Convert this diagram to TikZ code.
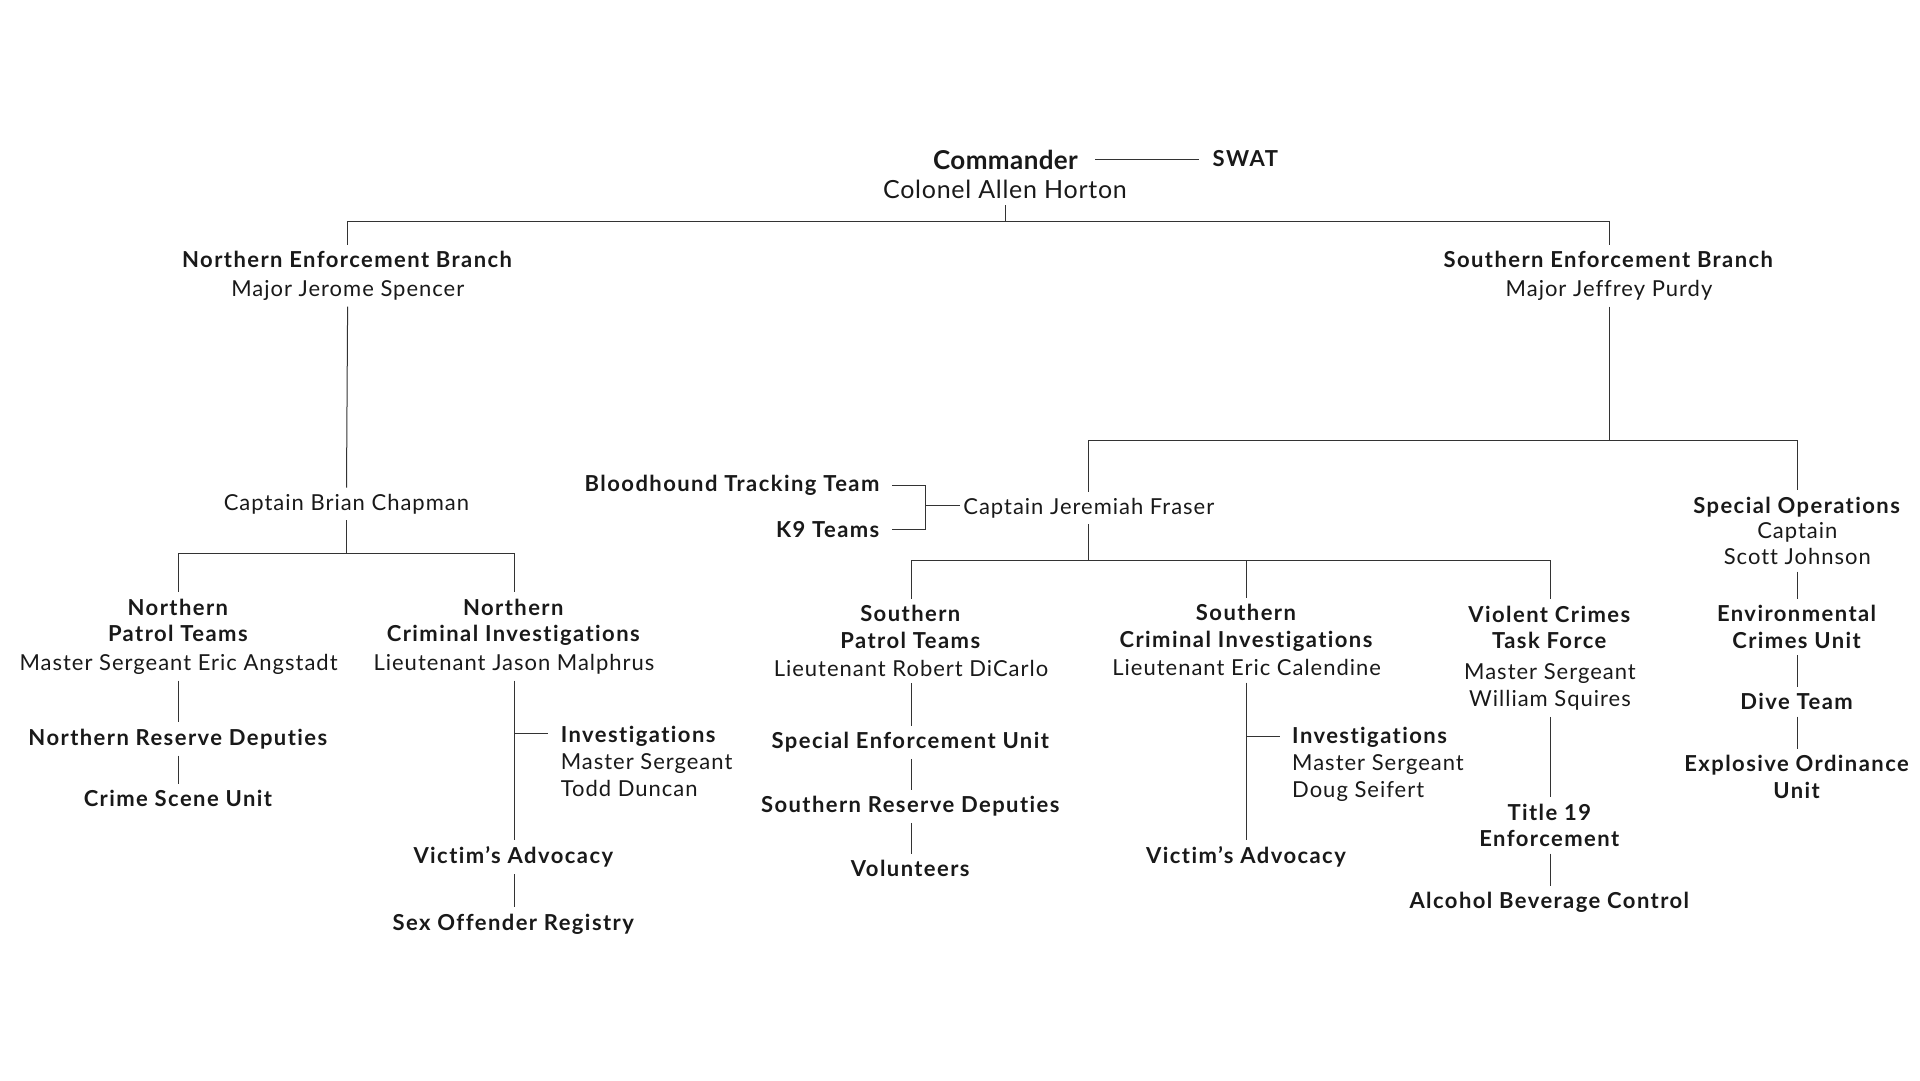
\documentclass[tikz,border=0pt]{standalone}
\usepackage{fontspec}
\setmainfont{Lato}[LetterSpace=4.5,BoldFeatures={LetterSpace=6.5},Ligatures=NoCommon]
\newfontfamily\headfont{Lato}[LetterSpace=1.5,Ligatures=NoCommon]
\usepackage{tikz}

\begin{document}
\begin{tikzpicture}[x=1pt,y=-1pt,line width=1pt,
                    font=\fontsize{22}{26.7}\selectfont]
  \tikzstyle{unit}=[align=center,inner xsep=3pt,inner ysep=6pt,text=black!90]
  \tikzstyle{sub}=[unit,align=left,anchor=west]
  \tikzstyle{link}=[draw=black!80]
  \useasboundingbox (0,0) rectangle (1920,1080);

  % command staff
  \node[unit,font=\fontsize{26}{30}\headfont\bfseries] (cmd) at (1005.5,159.5) {Commander};
  \node[unit,font=\fontsize{25}{30}\selectfont\addfontfeature{LetterSpace=2.9}] (chief) at (1005,189.6) {Colonel Allen Horton};
  \node[unit] (swat) at (1246,158.7) {\textbf{SWAT}};

  % branches
  \node[unit] (neb) at (347.8,275.8) {\textbf{Northern Enforcement Branch}\\[1.7pt] Major Jerome Spencer};
  \node[unit] (seb) at (1609,275.8) {\textbf{Southern Enforcement Branch}\\[1.7pt] Major Jeffrey Purdy};

  % northern side
  \node[unit] (capN) at (346.4,504) {Captain Brian Chapman};
  \node[unit] (npt) at (178.6,636.5) {\textbf{Northern}\\ \textbf{Patrol Teams}\\[1.7pt] Master Sergeant Eric Angstadt};
  \node[unit] (nrd) [node distance=102.5pt,below of=npt] {\textbf{Northern Reserve Deputies}};
  \node[unit] (csu) [node distance=59.8pt,below of=nrd] {\textbf{Crime Scene Unit}};
  \node[unit] (nci) at (514,636.5) {\textbf{Northern}\\ \textbf{Criminal Investigations}\\[1.7pt] Lieutenant Jason Malphrus};
  \node[sub] (ninv) at (557.3,761.3) {\textbf{Investigations}\\ Master Sergeant\\ Todd Duncan};
  \node[unit] (nva) [node distance=220.8pt,below of=nci] {\textbf{Victim’s Advocacy}};
  \node[unit] (nsor) [node distance=66.7pt,below of=nva] {\textbf{Sex Offender Registry}};

  % southern side
  \node[unit] (capS) at (1088.8,508) {Captain Jeremiah Fraser};
  \node[unit,anchor=east] (blood) at (884.3,485) {\textbf{Bloodhound Tracking Team}};
  \node[unit,anchor=east] (k9) at (884.3,529.5) {\textbf{K9 Teams}};
  \node[unit] (spt) at (911,641) {\textbf{Southern}\\ \textbf{Patrol Teams}\\[1.7pt] Lieutenant Robert DiCarlo};
  \node[unit] (seu) [node distance=101.3pt,below of=spt] {\textbf{Special Enforcement Unit}};
  \node[unit] (srd) [node distance=64pt,below of=seu] {\textbf{Southern Reserve Deputies}};
  \node[unit] (vol) [node distance=62.2pt,below of=srd] {\textbf{Volunteers}};
  \node[unit] (sci) at (1246.7,640.2) {\textbf{Southern}\\ \textbf{Criminal Investigations}\\[1.7pt] Lieutenant Eric Calendine};
  \node[sub] (sinv) at (1288.7,764.2) {\textbf{Investigations}\\ Master Sergeant\\ Doug Seifert};
  \node[unit] (sva) [node distance=217.1pt,below of=sci] {\textbf{Victim’s Advocacy}};
  \node[unit] (vctf) at (1550,658.2) {\textbf{Violent Crimes}\\ \textbf{Task Force}\\[4.3pt] Master Sergeant\\ William Squires};
  \node[unit] (t19) [node distance=167.3pt,below of=vctf] {\textbf{Title 19}\\ \textbf{Enforcement}};
  \node[unit] (abc) [node distance=76.8pt,below of=t19] {\textbf{Alcohol Beverage Control}};
  \node[unit] (specops) at (1797.3,531) {\textbf{Special Operations}\\[-1.7pt] Captain\\ Scott Johnson};
  \node[unit] (env) [node distance=95.9pt,below of=specops] {\textbf{Environmental}\\ \textbf{Crimes Unit}};
  \node[unit] (dive) [node distance=75pt,below of=env] {\textbf{Dive Team}};
  \node[unit] (eod) [node distance=75pt,below of=dive] {\textbf{Explosive Ordinance}\\ \textbf{Unit}};

  % bus points
  \coordinate (topbus) at (1005,221.6);
  \coordinate (nbus) at (346.4,553.3);
  \coordinate (sbus) at (1609,440.8);
  \coordinate (fbus) at (1088.8,560);
  \coordinate (brk) at (925,505.7);
  \coordinate (ntap) at (514,733.3);
  \coordinate (stap) at (1246.7,736.7);

  \draw[link,shorten <=14pt,shorten >=10pt] (cmd.east) -- (cmd.east -| swat.west);
  \draw[link] (chief) -- (topbus) -| (neb);
  \draw[link] (topbus) -| (seb);

  \draw[link] (neb) -- (capN);
  \draw[link] (capN) -- (nbus) -| (npt);
  \draw[link] (nbus) -| (nci);
  \path[link] (npt) edge (nrd)
              (nrd) edge (csu)
              (nci) edge (nva)
              (nva) edge (nsor);
  \draw[link,shorten >=9pt] (ntap) -- (ntap -| ninv.west);

  \draw[link] (seb) -- (sbus) -| (capS);
  \draw[link] (sbus) -| (specops);
  \draw[link,shorten <=8pt] (blood) -| (brk);
  \draw[link,shorten <=8pt] (k9) -| (brk);
  \draw[link] (brk) -- (brk -| capS.west);
  \draw[link] (capS) -- (fbus) -| (spt);
  \draw[link] (fbus) -| (vctf);
  \draw[link] (sci.north |- fbus) -- (sci);
  \path[link] (spt) edge (seu)
              (seu) edge (srd)
              (srd) edge (vol)
              (sci) edge (sva)
              (vctf) edge (t19)
              (t19) edge (abc)
              (specops) edge (env)
              (env) edge (dive)
              (dive) edge (eod);
  \draw[link,shorten >=8.7pt] (stap) -- (stap -| sinv.west);
\end{tikzpicture}
\end{document}
